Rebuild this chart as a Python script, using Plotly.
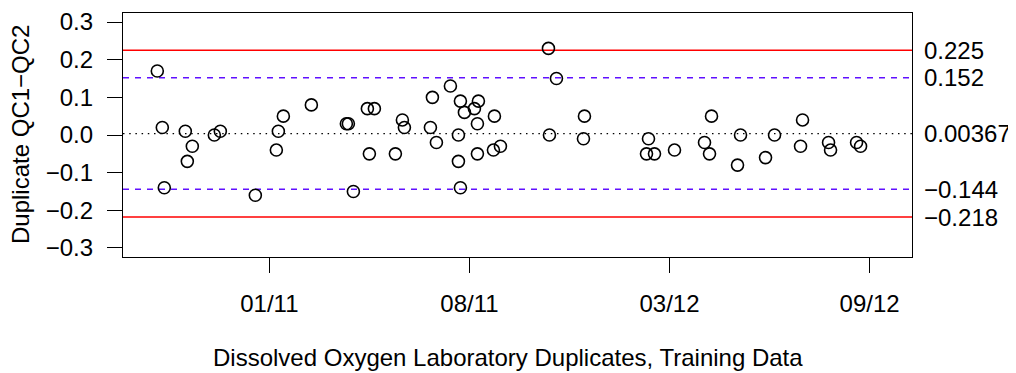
import plotly.graph_objects as go

# Sample dates and duplicate differences (QC1 - QC2)
dates = [
    "2010-10-06", "2010-10-11", "2010-10-13", "2010-11-03", "2010-11-05", "2010-11-10",
    "2010-12-02", "2010-12-08", "2011-01-12", "2011-02-02", "2011-02-04", "2011-02-09",
    "2011-03-09", "2011-04-13", "2011-04-15", "2011-04-20", "2011-05-04", "2011-05-06",
    "2011-05-11", "2011-06-01", "2011-06-08", "2011-06-10", "2011-07-06", "2011-07-08",
    "2011-07-12", "2011-07-26", "2011-08-03", "2011-08-03", "2011-08-05", "2011-08-05",
    "2011-08-09", "2011-08-19", "2011-08-22", "2011-08-22", "2011-08-23", "2011-09-07",
    "2011-09-08", "2011-09-14", "2011-11-01", "2011-11-02", "2011-11-09", "2011-12-06",
    "2011-12-07", "2012-02-07", "2012-02-09", "2012-02-15", "2012-03-06", "2012-04-05",
    "2012-04-10", "2012-04-12", "2012-05-08", "2012-05-11", "2012-06-05", "2012-06-14",
    "2012-07-10", "2012-07-12", "2012-08-07", "2012-08-09", "2012-09-04", "2012-09-08",
]
diffs = [
    0.17, 0.02, -0.14, 0.01, -0.07, -0.03,
    0.00, 0.01, -0.16, -0.04, 0.01, 0.05,
    0.08, 0.03, 0.03, -0.15, 0.07, -0.05,
    0.07, -0.05, 0.04, 0.02, 0.02, 0.10,
    -0.02, 0.13, 0.00, -0.07, 0.09, -0.14,
    0.06, 0.07, 0.03, -0.05, 0.09, -0.04,
    0.05, -0.03, 0.23, 0.00, 0.15, -0.01,
    0.05, -0.05, -0.01, -0.05, -0.04, -0.02,
    -0.05, 0.05, -0.08, 0.00, -0.06, 0.00,
    -0.03, 0.04, -0.02, -0.04, -0.02, -0.03,
]

# Control limits
center = 0.00367
ucl, lcl = 0.225, -0.218
uwl, lwl = 0.152, -0.144
limit_labels = ["0.225", "0.152", "0.00367", "\u22120.144", "\u22120.218"]
limit_values = [ucl, uwl, center, lwl, lcl]

# Axis ticks
x_tickvals = ["2011-01-26", "2011-08-14", "2012-03-01", "2012-09-17"]
x_ticktext = ["01/11", "08/11", "03/12", "09/12"]
y_tickvals = [-0.3, -0.2, -0.1, 0.0, 0.1, 0.2, 0.3]

x_range = ["2010-09-01 17:00", "2012-10-29 10:00"]
y_range = [-0.324, 0.324]

FONT = "Liberation Sans, Arial, Helvetica, sans-serif"
FS = 24

fig = go.Figure()

line_specs = [
    (ucl, "#ff0000", "solid", 1.5),
    (lcl, "#ff0000", "solid", 1.5),
    (uwl, "#6010ff", "6px,6px", 1.5),
    (lwl, "#6010ff", "6px,6px", 1.5),
    (center, "#000000", "1.5px,4.7px", 1.3),
]
for val, col, dash, w in line_specs:
    fig.add_trace(go.Scatter(
        x=x_range, y=[val, val], mode="lines",
        line=dict(color=col, dash=dash, width=w),
        hoverinfo="skip", showlegend=False,
    ))

fig.add_trace(go.Scatter(
    x=dates, y=diffs, mode="markers",
    marker=dict(symbol="circle-open", size=12, color="black", line=dict(width=1.6, color="black")),
    showlegend=False,
))

for lab, val in zip(limit_labels, limit_values):
    fig.add_annotation(
        x=1, xref="paper", y=val, yref="y", xanchor="left", yanchor="middle",
        xshift=10, text=lab, showarrow=False, font=dict(family=FONT, size=FS, color="black"),
    )

fig.add_annotation(
    x=0.5, xref="paper", y=0, yref="paper", yanchor="middle", xanchor="center",
    xshift=-10, yshift=-100, text="Dissolved Oxygen Laboratory Duplicates, Training Data",
    showarrow=False, font=dict(family=FONT, size=FS, color="black"),
)
fig.add_annotation(
    x=0, xref="paper", y=0.5, yref="paper", yanchor="middle", xanchor="center",
    xshift=-103, textangle=-90, text="Duplicate QC1\u2212QC2",
    showarrow=False, font=dict(family=FONT, size=FS, color="black"),
)

# The page body adds an 8px offset; size the figure to fit the window.
fig.update_layout(
    width=1008, height=365,
    margin=dict(l=115, r=104, t=5, b=116, autoexpand=False),
    plot_bgcolor="white", paper_bgcolor="white",
    font=dict(family=FONT, size=FS, color="black"),
    xaxis=dict(
        type="date", range=x_range, tickvals=x_tickvals, ticktext=x_ticktext,
        showgrid=False, zeroline=False, showline=True, mirror=True, automargin=False,
        linecolor="black", linewidth=1.2, ticks="outside", ticklen=15,
        tickcolor="black", tickwidth=1.2, ticklabelstandoff=10,
    ),
    yaxis=dict(
        range=y_range, tickvals=y_tickvals, tickformat=".1f",
        showgrid=False, zeroline=False, showline=True, mirror=True, automargin=False,
        linecolor="black", linewidth=1.2, ticks="outside", ticklen=15,
        tickcolor="black", tickwidth=1.2, ticklabelstandoff=9,
    ),
)

fig.write_html("out.html")
